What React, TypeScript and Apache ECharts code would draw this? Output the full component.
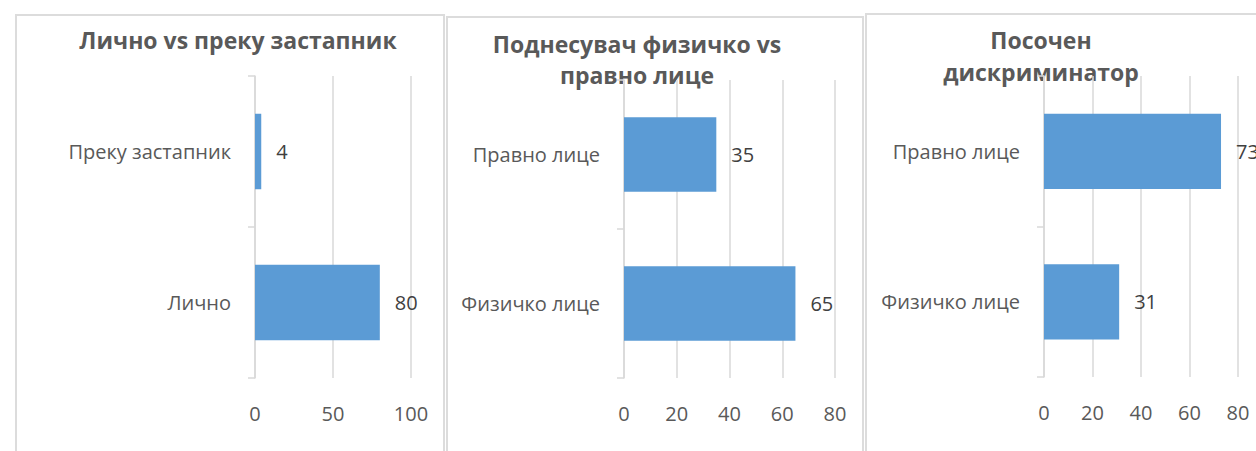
import React, { useEffect, useRef } from "react";
import * as echarts from "echarts";

// ---- data ----
const titles = ["Лично vs преку застапник", "Поднесувач физичко vs\nправно лице", "Посочен\nдискриминатор"];
const categories1 = ["Лично", "Преку застапник"];
const values1 = [80, 4];
const categories2 = ["Физичко лице", "Правно лице"];
const values2 = [65, 35];
const categories3 = ["Физичко лице", "Правно лице"];
const values3 = [31, 73];
const axisMax = [100, 80, 80];
const axisStep = [50, 20, 20];

const BAR = "#5b9bd5";
const GRIDC = "#d9d9d9";
const TXT = "#595959";
const VAL = "#404040";
const FONT = "'Open Sans', 'DejaVu Sans', sans-serif";

export default function App() {
  const ref = useRef<HTMLDivElement>(null);
  useEffect(() => {
    if (!ref.current) return;
    const chart = echarts.init(ref.current, undefined, { renderer: "svg" });
    const grids = [
      { left: 255, top: 76, width: 156, height: 302 },
      { left: 624, top: 80, width: 211, height: 298 },
      { left: 1044, top: 76, width: 194, height: 301 },
    ];
    const cats = [categories1, categories2, categories3];
    const vals = [values1, values2, values3];
    const option: any = {
      animation: false,
      backgroundColor: "#ffffff",
      grid: grids.map((g) => ({ ...g, containLabel: false })),
      xAxis: grids.map((_, i) => ({
        type: "value",
        gridIndex: i,
        min: 0,
        max: axisMax[i],
        interval: axisStep[i],
        axisLine: { show: false },
        axisTick: { show: false },
        splitLine: { show: true, lineStyle: { color: GRIDC, width: 1.5 } },
        axisLabel: { color: TXT, fontSize: 20, fontFamily: FONT, margin: 25 },
      })),
      yAxis: grids.map((_, i) => ({
        type: "category",
        gridIndex: i,
        data: cats[i],
        axisLine: { show: true, lineStyle: { color: GRIDC, width: 1.5 } },
        axisTick: { show: true, length: 7, lineStyle: { color: GRIDC, width: 1.5 } },
        axisLabel: { color: TXT, fontSize: 20, fontFamily: FONT, margin: 24 },
      })),
      series: grids.map((_, i) => ({
        type: "bar",
        xAxisIndex: i,
        yAxisIndex: i,
        data: vals[i],
        barCategoryGap: "50%",
        itemStyle: { color: BAR },
        label: {
          show: true,
          position: "right",
          distance: 15,
          color: VAL,
          fontSize: 20,
          fontFamily: FONT,
        },
      })),
      graphic: [
        { type: "rect", shape: { x: 16, y: 15, width: 428, height: 460 }, style: { fill: "none", stroke: "#dcdcdc", lineWidth: 2 }, silent: true },
        { type: "rect", shape: { x: 447, y: 17, width: 416, height: 460 }, style: { fill: "none", stroke: "#dcdcdc", lineWidth: 2 }, silent: true },
        { type: "rect", shape: { x: 866, y: 14, width: 420, height: 460 }, style: { fill: "none", stroke: "#dcdcdc", lineWidth: 2 }, silent: true },
        {
          type: "text", x: 238, y: 40,
          style: { text: titles[0], fill: TXT, fontSize: 23, fontWeight: "bold", fontFamily: FONT, textAlign: "center", textVerticalAlign: "middle" },
        },
        {
          type: "text", x: 637, y: 59.5,
          style: { text: titles[1], fill: TXT, fontSize: 23, fontWeight: "bold", fontFamily: FONT, textAlign: "center", textVerticalAlign: "middle", lineHeight: 31 },
        },
        {
          type: "text", x: 1041, y: 56,
          style: { text: titles[2], fill: TXT, fontSize: 23, fontWeight: "bold", fontFamily: FONT, textAlign: "center", textVerticalAlign: "middle", lineHeight: 32 },
        },
      ],
    };
    chart.setOption(option);
    return () => chart.dispose();
  }, []);
  return <div ref={ref} style={{ position: "absolute", left: 0, top: 0, width: 1256, height: 451 }} />;
}
